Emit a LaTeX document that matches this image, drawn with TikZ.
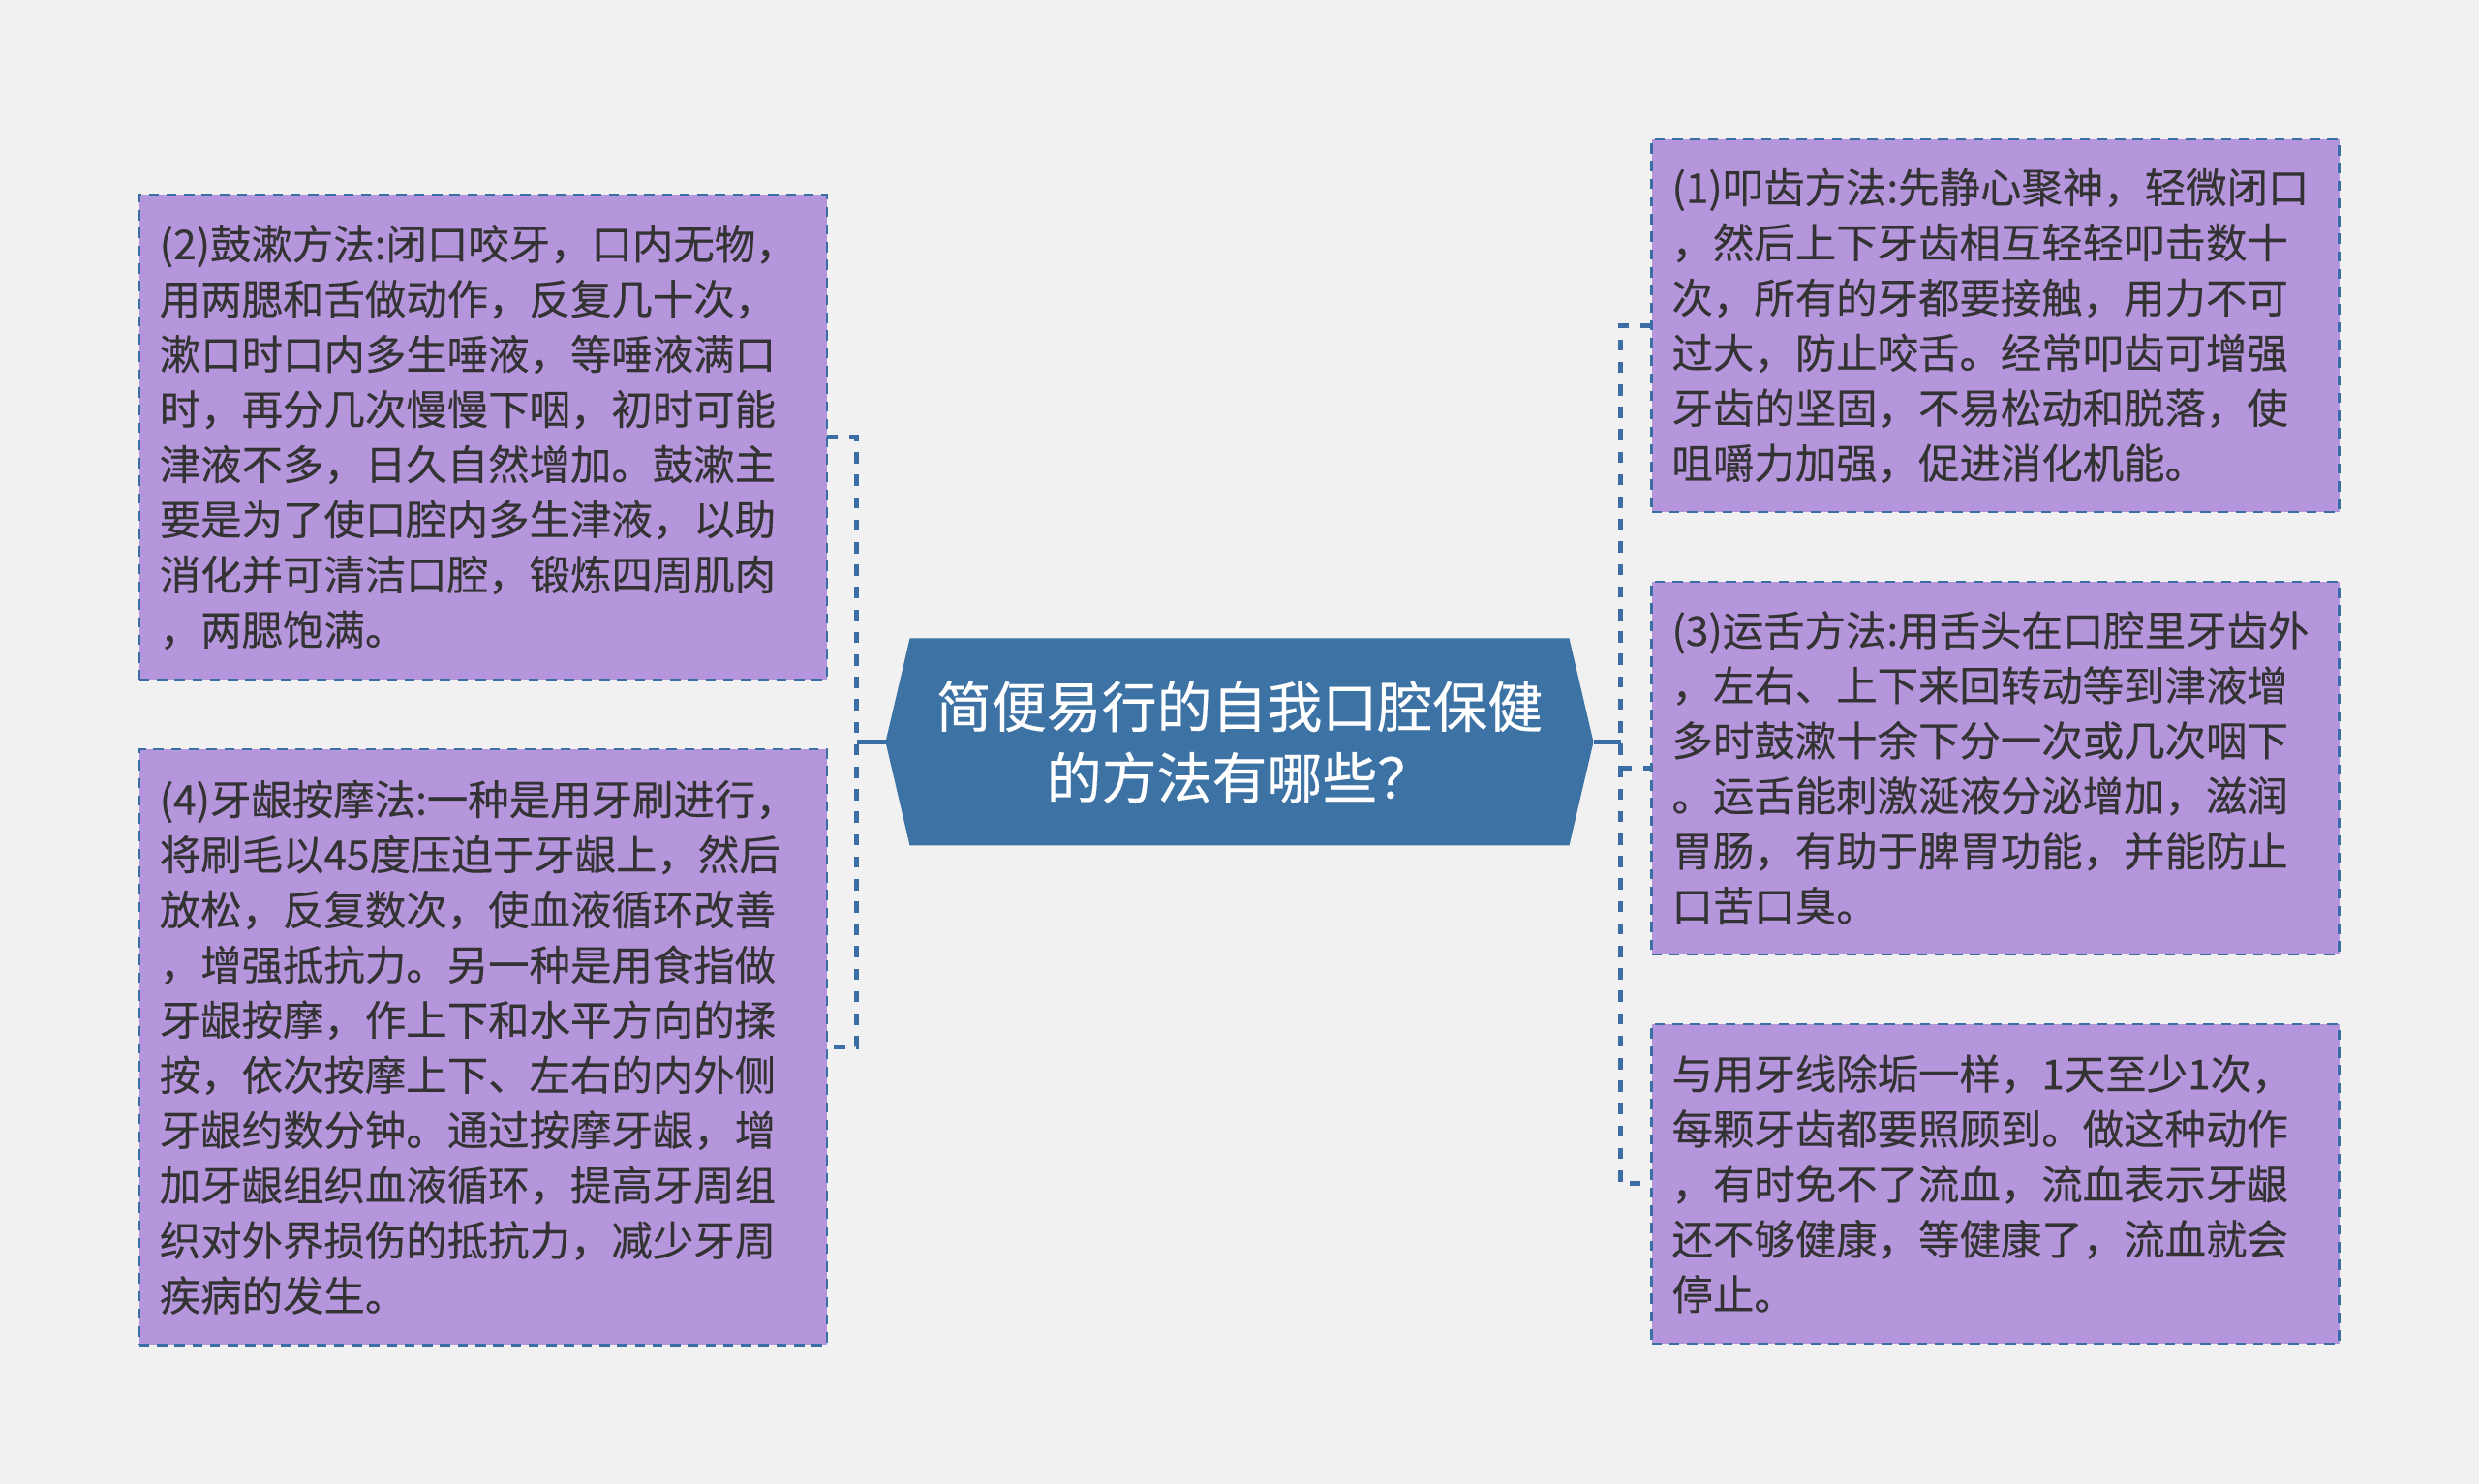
\documentclass[tikz,border=0pt]{standalone}
\usepackage{fontspec}
\setmainfont{Noto Sans CJK SC}[UprightFeatures={FakeBold=0.3}]
\usepackage{tikz}
\usetikzlibrary{positioning}
\definecolor{pagebg}{HTML}{F1F1F1}
\definecolor{leaffill}{HTML}{B595DB}
\definecolor{linkblue}{HTML}{3B6EA5}
\definecolor{rootfill}{HTML}{3D72A4}
\definecolor{leaftext}{HTML}{333333}

\begin{document}
\begin{tikzpicture}[
  leaf/.style={draw=linkblue,fill=leaffill,line width=0.7pt,dash pattern=on 3pt off 2.2pt,
    text=leaftext,align=left,text width=6.68cm,inner xsep=0.21cm,inner ysep=0pt,outer sep=0pt,
    font=\fontsize{12.07}{16.2}\selectfont},
  rootbox/.style={minimum width=7.31cm,minimum height=2.14cm,inner sep=0pt,outer sep=0pt,
    text=white,align=center,font=\fontsize{16.2}{20.9}\selectfont,
    path picture={\fill[rootfill] ([xshift=2.5mm]path picture bounding box.north west)
      -- ([xshift=-2.5mm]path picture bounding box.north east) -- (path picture bounding box.east)
      -- ([xshift=-2.5mm]path picture bounding box.south east)
      -- ([xshift=2.5mm]path picture bounding box.south west) -- (path picture bounding box.west) -- cycle;}},
  link/.style={linkblue,line width=1.2pt},
  dashlink/.style={link,line width=1.4pt,dash pattern=on 3.3pt off 3.3pt}
]
\fill[pagebg] (0,0) rectangle (25.6,15.33);
\useasboundingbox (0,0) rectangle (25.6,15.33);

% centre
\node[rootbox] (root) at (12.8,7.665) {简便易行的自我口腔保健\\的方法有哪些？};
\coordinate[left=0.3cm of root] (lj);
\coordinate[right=0.28cm of root] (rj);

% left side
\node[leaf,minimum height=5.01cm] (gushu) at (4.988,10.815) {(2)鼓漱方法:闭口咬牙，口内无物，\\用两腮和舌做动作，反复几十次，\\漱口时口内多生唾液，等唾液满口\\时，再分几次慢慢下咽，初时可能\\津液不多，日久自然增加。鼓漱主\\要是为了使口腔内多生津液，以助\\消化并可清洁口腔，锻炼四周肌肉\\，两腮饱满。};
\node[leaf,minimum height=6.155cm,below=0.72cm of gushu] (anmo) {(4)牙龈按摩法:一种是用牙刷进行，\\将刷毛以45度压迫于牙龈上，然后\\放松，反复数次，使血液循环改善\\，增强抵抗力。另一种是用食指做\\牙龈按摩，作上下和水平方向的揉\\按，依次按摩上下、左右的内外侧\\牙龈约数分钟。通过按摩牙龈，增\\加牙龈组织血液循环，提高牙周组\\织对外界损伤的抵抗力，减少牙周\\疾病的发生。};

% right side
\node[leaf,minimum height=3.85cm] (kouchi) at (20.605,11.967) {(1)叩齿方法:先静心聚神，轻微闭口\\，然后上下牙齿相互轻轻叩击数十\\次，所有的牙都要接触，用力不可\\过大，防止咬舌。经常叩齿可增强\\牙齿的坚固，不易松动和脱落，使\\咀嚼力加强，促进消化机能。};
\node[leaf,minimum height=3.85cm,below=0.72cm of kouchi] (yunshe) {(3)运舌方法:用舌头在口腔里牙齿外\\，左右、上下来回转动等到津液增\\多时鼓漱十余下分一次或几次咽下\\。运舌能刺激涎液分泌增加，滋润\\胃肠，有助于脾胃功能，并能防止\\口苦口臭。};
\node[leaf,minimum height=3.3cm,below=0.72cm of yunshe] (shuaya) {与用牙线除垢一样，1天至少1次，\\每颗牙齿都要照顾到。做这种动作\\，有时免不了流血，流血表示牙龈\\还不够健康，等健康了，流血就会\\停止。};

% connectors
\draw[dashlink] (gushu.east) -| (lj) |- (anmo.east);
\draw[link] (root.west) -- (lj);
\draw[dashlink] (kouchi.west) -| (rj) |- (shuaya.west);
\draw[dashlink] (rj |- yunshe.west) -- (yunshe.west);
\draw[link] (root.east) -- (rj);
\end{tikzpicture}
\end{document}
